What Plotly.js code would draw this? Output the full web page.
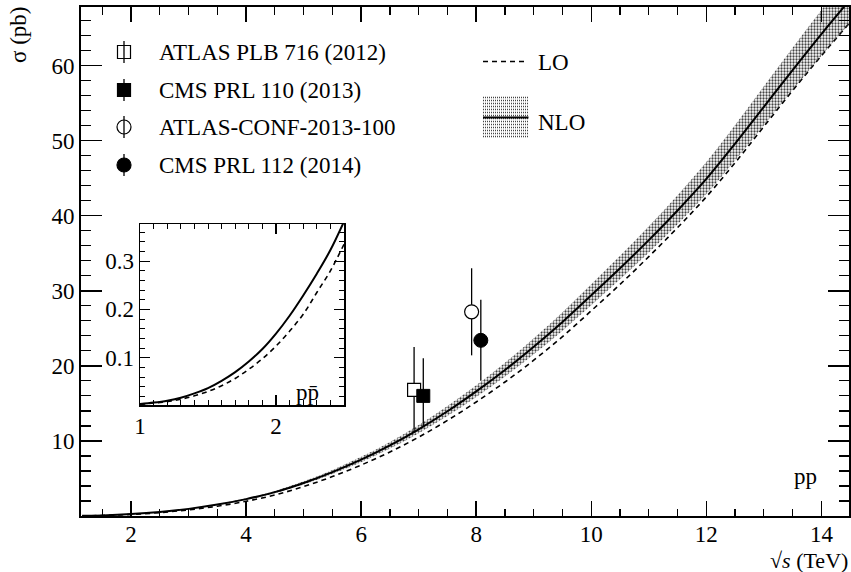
<!DOCTYPE html>
<html>
<head>
<meta charset="utf-8">
<script src="https://cdn.plot.ly/plotly-3.0.1.min.js"></script>
<style>
  html, body { margin: 0; padding: 0; background: #fff; }
  #chart { width: 851px; height: 572px; }
</style>
</head>
<body>
<div id="chart"></div>
<script>
// ---- main panel (pp) theory curves ----
const energy = [1.15, 1.5, 2, 2.5, 3, 3.5, 4, 4.5, 5, 5.5, 6, 6.5, 7, 7.5, 8, 8.5, 9, 9.5, 10, 10.5, 11, 11.5, 12, 12.5, 13, 13.5, 14, 14.5];
const nloCentral = [0.02, 0.08, 0.25, 0.53, 0.95, 1.52, 2.25, 3.18, 4.4, 5.85, 7.5, 9.4, 11.55, 13.95, 16.6, 19.45, 22.55, 25.85, 29.4, 33.0, 36.75, 40.7, 44.9, 49.6, 54.5, 59.4, 64.2, 68.8];
const nloUpper = [0.021, 0.084, 0.26, 0.56, 1.0, 1.6, 2.36, 3.34, 4.62, 6.14, 7.88, 9.87, 12.13, 14.65, 17.43, 20.42, 23.68, 27.14, 30.87, 34.65, 38.59, 42.74, 47.15, 52.08, 57.23, 62.37, 67.41, 72.24];
const nloLower = [0.019, 0.076, 0.24, 0.51, 0.91, 1.45, 2.15, 3.04, 4.2, 5.59, 7.16, 8.98, 11.03, 13.32, 15.85, 18.57, 21.54, 24.69, 28.08, 31.52, 35.1, 38.87, 42.88, 47.37, 52.05, 56.73, 61.31, 65.7];
const loCentral = [0.016, 0.066, 0.21, 0.45, 0.82, 1.31, 1.96, 2.8, 3.92, 5.25, 6.79, 8.53, 10.51, 12.73, 15.19, 17.85, 20.75, 23.9, 27.34, 30.85, 34.55, 38.42, 42.52, 47.06, 51.88, 56.67, 61.31, 65.77];

// ---- measurements ----
const measNames = ["ATLAS PLB 716 (2012)", "CMS PRL 110 (2013)", "ATLAS-CONF-2013-100", "CMS PRL 112 (2014)"];
const measX = [6.92, 7.08, 7.92, 8.08];
const measY = [16.8, 16.0, 27.2, 23.4];
const measErrUp = [5.7, 5.0, 5.8, 5.4];
const measErrDown = [5.7, 4.0, 5.8, 5.4];

// ---- inset (p pbar) curves ----
const insetEnergy = [1.0, 1.1, 1.2, 1.3, 1.4, 1.5, 1.6, 1.7, 1.8, 1.9, 2.0, 2.1, 2.2, 2.3, 2.4, 2.5];
const insetNlo = [0.004, 0.007, 0.011, 0.017, 0.026, 0.037, 0.052, 0.070, 0.092, 0.118, 0.150, 0.187, 0.229, 0.274, 0.323, 0.382];
const insetLo = [0.003, 0.006, 0.009, 0.014, 0.021, 0.030, 0.042, 0.057, 0.076, 0.098, 0.124, 0.155, 0.190, 0.235, 0.280, 0.335];

// ---- tick labels ----
const xTickVals = [2, 4, 6, 8, 10, 12, 14];
const xTickText = ["2", "4", "6", "8", "10", "12", "14"];
const yTickVals = [10, 20, 30, 40, 50, 60];
const yTickText = ["10", "20", "30", "40", "50", "60"];
const inXTickVals = [1, 2];
const inXTickText = ["1", "2"];
const inYTickVals = [0.1, 0.2, 0.3];
const inYTickText = ["0.1", "0.2", "0.3"];

// ---- geometry helpers (pixel -> paper) ----
const M = {l: 81, r: 2, t: 7, b: 56};
const W = 851, H = 572;
const PW = W - M.l - M.r, PH = H - M.t - M.b;
const px = x => (x - M.l) / PW;
const py = y => (H - M.b - y) / PH;

const FONT = '"Liberation Serif", "Times New Roman", Times, "DejaVu Serif", serif';
const FS = 23;
const pattern = {shape: ".", size: 3, solidity: 0.45, fgcolor: "#444", bgcolor: "rgba(255,255,255,0)"};

const markerStyles = [
  {symbol: "square", color: "white", size: 13, line: {color: "black", width: 1.2}},
  {symbol: "square", color: "black", size: 13, line: {color: "black", width: 1}},
  {symbol: "circle", color: "white", size: 14, line: {color: "black", width: 1.2}},
  {symbol: "circle", color: "black", size: 14, line: {color: "black", width: 1}}
];

const traces = [];
traces.push({x: energy, y: loCentral, mode: "lines", name: "LO", line: {color: "black", width: 1.6, dash: "5px,4px", shape: "spline"}, showlegend: false});
traces.push({x: energy, y: nloLower, mode: "lines", line: {width: 0, color: "black", shape: "spline"}, showlegend: false, hoverinfo: "skip"});
traces.push({x: energy, y: nloCentral, mode: "lines", name: "NLO", fill: "tonexty", fillcolor: "rgba(255,255,255,0)", fillpattern: pattern,
  line: {color: "black", width: 2, shape: "spline"}, showlegend: false});
traces.push({x: energy, y: nloUpper, mode: "lines", fill: "tonexty", fillcolor: "rgba(255,255,255,0)", fillpattern: pattern,
  line: {width: 0, color: "black", shape: "spline"}, showlegend: false, hoverinfo: "skip"});

for (let i = 0; i < measNames.length; i++) {
  traces.push({
    x: [measX[i]], y: [measY[i]], mode: "markers", name: measNames[i],
    marker: markerStyles[i],
    error_y: {type: "data", symmetric: false, array: [measErrUp[i]], arrayminus: [measErrDown[i]], width: 0, thickness: 1.3, color: "black"},
    showlegend: false
  });
}

traces.push({x: insetEnergy, y: insetNlo, mode: "lines", name: "NLO pp\u0304", xaxis: "x2", yaxis: "y2", line: {color: "black", width: 2, shape: "spline"}, showlegend: false});
traces.push({x: insetEnergy, y: insetLo, mode: "lines", name: "LO pp\u0304", xaxis: "x2", yaxis: "y2", line: {color: "black", width: 1.6, dash: "5px,4px", shape: "spline"}, showlegend: false});

const axisCommon = {
  showgrid: false, zeroline: false, showline: true, linecolor: "black", mirror: "allticks",
  ticks: "inside", tickcolor: "black", tickfont: {family: FONT, size: FS, color: "black"}, tickmode: "array"
};

// ---- hand-made legend (ROOT style) ----
const shapes = [];
const annotations = [];
const legRows = [52, 90, 127, 165];
const legMarkX = 124;
const legTextX = 157;
for (let i = 0; i < measNames.length; i++) {
  const yc = legRows[i];
  shapes.push({type: "line", xref: "paper", yref: "paper", x0: px(legMarkX), x1: px(legMarkX), y0: py(yc - 11), y1: py(yc + 11),
    line: {color: "black", width: 1.3}});
  const filled = (i === 1 || i === 3);
  const isSquare = (i < 2);
  const half = isSquare ? 6.5 : 7;
  shapes.push({type: isSquare ? "rect" : "circle", xref: "paper", yref: "paper",
    x0: px(legMarkX - half), x1: px(legMarkX + half), y0: py(yc + half), y1: py(yc - half),
    fillcolor: filled ? "black" : "rgba(0,0,0,0)", line: {color: "black", width: 1.2}});
  annotations.push({text: measNames[i], xref: "paper", yref: "paper", x: px(legTextX), y: py(yc), xanchor: "left", yanchor: "middle",
    showarrow: false, font: {family: FONT, size: FS, color: "black"}});
}
// LO entry
shapes.push({type: "line", xref: "paper", yref: "paper", x0: px(483), x1: px(527), y0: py(61.5), y1: py(61.5),
  line: {color: "black", width: 1.6, dash: "5px,4px"}});
annotations.push({text: "LO", xref: "paper", yref: "paper", x: px(536), y: py(63), xanchor: "left", yanchor: "middle",
  showarrow: false, font: {family: FONT, size: FS, color: "black"}});
// NLO entry: dotted box + solid line
for (let r = 0; r <= 13; r++) {
  shapes.push({type: "line", xref: "paper", yref: "paper", x0: px(483), x1: px(528.5), y0: py(97.5 + r * 3), y1: py(97.5 + r * 3),
    line: {color: "#444", width: 1.5, dash: "1px,1px"}});
}
shapes.push({type: "line", xref: "paper", yref: "paper", x0: px(483), x1: px(528.5), y0: py(117.5), y1: py(117.5),
  line: {color: "black", width: 2}});
annotations.push({text: "NLO", xref: "paper", yref: "paper", x: px(536), y: py(122), xanchor: "left", yanchor: "middle",
  showarrow: false, font: {family: FONT, size: FS, color: "black"}});

// axis titles and labels
annotations.push({text: "σ (pb)", xref: "paper", yref: "paper", x: px(18), y: py(35), xanchor: "center", yanchor: "middle",
  textangle: -90, showarrow: false, font: {family: FONT, size: FS, color: "black"}});
annotations.push({text: "√<i>s</i> (TeV)", xref: "paper", yref: "paper", x: px(850), y: py(560), xanchor: "right", yanchor: "middle",
  showarrow: false, font: {family: FONT, size: 22, color: "black"}});
annotations.push({text: "pp", xref: "paper", yref: "paper", x: px(805), y: py(476), xanchor: "center", yanchor: "middle",
  showarrow: false, font: {family: FONT, size: FS, color: "black"}});
annotations.push({text: "pp\u0304", xref: "paper", yref: "paper", x: px(307), y: py(392), xanchor: "center", yanchor: "middle",
  showarrow: false, font: {family: FONT, size: FS, color: "black"}});

const layout = {
  width: W, height: H,
  margin: M,
  showlegend: false,
  paper_bgcolor: "white", plot_bgcolor: "white",
  font: {family: FONT, size: FS, color: "black"},
  xaxis: Object.assign({}, axisCommon, {
    range: [1.13, 14.48], tickvals: xTickVals, ticktext: xTickText, ticklen: 15, tickwidth: 1.5, linewidth: 2,
    ticklabelstandoff: -4,
    minor: {tickmode: "linear", tick0: 0, dtick: 0.5, ticks: "inside", ticklen: 7.5, tickwidth: 1.2, tickcolor: "black"}
  }),
  yaxis: Object.assign({}, axisCommon, {
    range: [0, 67.8], tickvals: yTickVals, ticktext: yTickText, ticklen: 21, tickwidth: 1.5, linewidth: 2,
    minor: {tickmode: "linear", tick0: 0, dtick: 2, ticks: "inside", ticklen: 10, tickwidth: 1.2, tickcolor: "black"}
  }),
  xaxis2: Object.assign({}, axisCommon, {
    domain: [px(140), px(344)], anchor: "y2", range: [1, 2.5], tickvals: inXTickVals, ticktext: inXTickText,
    ticklen: 10, tickwidth: 1.2, linewidth: 1.5,
    minor: {tickmode: "linear", tick0: 0, dtick: 0.1, ticks: "inside", ticklen: 5, tickwidth: 1, tickcolor: "black"}
  }),
  yaxis2: Object.assign({}, axisCommon, {
    domain: [py(405), py(224)], anchor: "x2", range: [0.002, 0.377], tickvals: inYTickVals, ticktext: inYTickText,
    ticklen: 10, tickwidth: 1.2, linewidth: 1.5,
    minor: {tickmode: "linear", tick0: 0, dtick: 0.02, ticks: "inside", ticklen: 5, tickwidth: 1, tickcolor: "black"}
  }),
  shapes: shapes,
  annotations: annotations
};

Plotly.newPlot("chart", traces, layout, {staticPlot: true, displayModeBar: false});
</script>
</body>
</html>
